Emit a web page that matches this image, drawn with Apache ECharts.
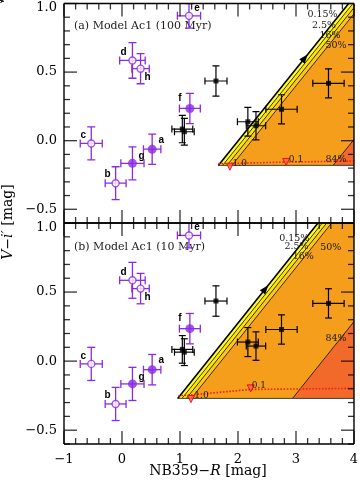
<!DOCTYPE html>
<html>
<head>
<meta charset="utf-8">
<script src="https://cdn.jsdelivr.net/npm/echarts@6/dist/echarts.min.js"></script>
<style>html,body{margin:0;padding:0;background:#fff}#chart{width:360px;height:487px}</style>
</head>
<body>
<div id="chart"></div>
<script>
// observed objects: [x, y, xerr, yerr, letter]
const openPts = [
	[-0.53, -0.02, 0.19, 0.12, "c"],
	[-0.11, -0.31, 0.18, 0.12, "b"],
	[0.18, 0.585, 0.22, 0.13, "d"],
	[0.32, 0.525, 0.15, 0.11, "h"],
	[1.155, 0.91, 0.2, 0.09, "e"]
];
const filledPts = [
	[0.18, -0.165, 0.2, 0.12, "g"],
	[0.52, -0.062, 0.15, 0.11, "a"],
	[1.17, 0.235, 0.18, 0.11, "f"]
];
const blackPts = [
	[1.62, 0.435, 0.19, 0.11],
	[1.04, 0.085, 0.18, 0.10],
	[1.075, 0.065, 0.17, 0.097],
	[2.17, 0.138, 0.18, 0.105],
	[2.31, 0.109, 0.167, 0.103],
	[2.75, 0.229, 0.27, 0.106],
	[3.56, 0.418, 0.27, 0.106]
];
const xMajor = [-1, 0, 1, 2, 3, 4];
const yMajor = [-0.5, 0, 0.5, 1.0];

// dust attenuation wedge (one per panel)
const wedgeTips = [[1.66, -0.18], [0.96, -0.27]];
const wedgeSlope = 0.525;
const bandEdges = [0, 0.075, 0.15, 0.235, 1.98, 9];
const bandColors = ["#ffff22", "#ffe600", "#ffc815", "#f59e1b", "#f26a2a"];
const arrowX = [3.2, 2.52];

// age track (red dotted)
const trackLines = [
	[[1.66, -0.168], [2.83, -0.156], [4, -0.148]],
	[[0.97, -0.252], [1.5, -0.233], [2.22, -0.205], [4, -0.197]]
];
const trackMarks = [
	[[1.86, -0.19], [2.83, -0.155]],
	[[1.19, -0.275], [2.22, -0.197]]
];
const trackLabels = [
	[[2.03, -0.165, "1.0"], [3.0, -0.136, "0.1"]],
	[[1.37, -0.252, "1.0"], [2.36, -0.18, "0.1"]]
];
const pctLabels = [
	[[3.457, 0.916, "0.15%"], [3.483, 0.843, "2.5%"], [3.586, 0.77, "16%"], [3.69, 0.69, "50%"], [3.69, -0.141, "84%"]],
	[[2.97, 0.888, "0.15%"], [3.01, 0.827, "2.5%"], [3.126, 0.754, "16%"], [3.6, 0.819, "50%"], [3.69, 0.165, "84%"]]
];
const dustTitle = [[2.43, 0.697, "Dust attenuation"], [2.04, 0.611, "Dust attenuation"]];
const dustSub = [[2.45, 0.624, "(SMC law)"], [2.06, 0.532, "(SMC law)"]];
const panelTitles = ["(a) Model Ac1 (100 Myr)", "(b) Model Ac1 (10 Myr)"];

const chart = echarts.init(document.getElementById("chart"));
const serif = "DejaVu Serif";
const purple = "#8a2be2";
const letterOffset = { c: [-8, -8], b: [-8, -9], g: [9, -7], a: [9, -9], d: [-9, -8], h: [7, 9], e: [8, -8], f: [-10, -10] };
const X0 = -1, X1 = 4, Y0 = -0.6, Y1 = 1.0;

// minor tick positions (every 0.2 in x, 0.1 in y)
const isIn = (list, v) => list.some(t => Math.abs(t - v) < 1e-6);
const xMinor = [], yMinor = [];
for (let k = 0; k <= 25; k++) {
	const v = Math.round((X0 + k * 0.2) * 10) / 10;
	if (!isIn(xMajor, v)) xMinor.push(v);
}
for (let k = 0; k <= 16; k++) {
	const v = Math.round((Y0 + k * 0.1) * 10) / 10;
	if (!isIn(yMajor, v)) yMinor.push(v);
}

function frameRender(params, api) {
	const tl = api.coord([X0, Y1]), br = api.coord([X1, Y0]);
	const ln = (x1, y1, x2, y2) => ({ type: "line", shape: { x1, y1, x2, y2 }, style: { stroke: "#000", lineWidth: 1.4 } });
	return { type: "group", children: [
		ln(tl[0], tl[1], br[0], tl[1]), ln(tl[0], br[1], br[0], br[1]),
		ln(tl[0], tl[1], tl[0], br[1]), ln(br[0], tl[1], br[0], br[1])
	] };
}

// tick marks drawn as thin rect symbols sitting on the frame, pointing inward
function tickSeries(gi, data, size, offset) {
	return { type: "scatter", xAxisIndex: gi, yAxisIndex: gi, z: 9, clip: false, silent: true,
		data: data, symbol: "rect", symbolSize: size, symbolOffset: offset,
		itemStyle: { color: "#000" } };
}

function bandRender(tip) {
	return function (params, api) {
		const i = params.dataIndex;
		const yb = tip[1], yt = 1.6;
		const run = (yt - yb) / wedgeSlope;
		const a1 = tip[0] + bandEdges[i], a2 = tip[0] + bandEdges[i + 1];
		const pts = [[a1, yb], [a2, yb], [a2 + run, yt], [a1 + run, yt]].map(p => api.coord(p));
		return { type: "polygon", shape: { points: pts }, style: { fill: bandColors[i] } };
	};
}

function edgeRender(tip, ax) {
	return function (params, api) {
		const yb = tip[1], yt = 1.6;
		const run = (yt - yb) / wedgeSlope;
		const kids = [];
		bandEdges.slice(0, 5).forEach((o, i) => {
			const p = api.coord([tip[0] + o, yb]), q = api.coord([tip[0] + o + run, yt]);
			kids.push({ type: "line", shape: { x1: p[0], y1: p[1], x2: q[0], y2: q[1] },
				style: { stroke: "#000", lineWidth: i === 0 ? 1.6 : 0.8 } });
		});
		const b1 = api.coord([tip[0], yb]), b2 = api.coord([4.5, yb]);
		kids.push({ type: "line", shape: { x1: b1[0], y1: b1[1], x2: b2[0], y2: b2[1] },
			style: { stroke: "#333", lineWidth: 0.9 } });
		// arrow head on the outer line
		const p = api.coord([ax, tip[1] + wedgeSlope * (ax - tip[0])]);
		const q = api.coord([ax - 0.2, tip[1] + wedgeSlope * (ax - 0.2 - tip[0])]);
		const len = Math.hypot(p[0] - q[0], p[1] - q[1]);
		const dx = (p[0] - q[0]) / len, dy = (p[1] - q[1]) / len;
		const bx = p[0] - dx * 9, by = p[1] - dy * 9;
		kids.push({ type: "polygon", shape: { points: [p, [bx - dy * 3.5, by + dx * 3.5], [bx + dy * 3.5, by - dx * 3.5]] },
			style: { fill: "#000" } });
		return { type: "group", children: kids };
	};
}

function errRender(color, width, cap) {
	return function (params, api) {
		const x = api.value(0), y = api.value(1), ex = api.value(2), ey = api.value(3);
		const l = api.coord([x - ex, y]), r = api.coord([x + ex, y]);
		const t = api.coord([x, y + ey]), b = api.coord([x, y - ey]);
		const ln = (x1, y1, x2, y2) => ({ type: "line", shape: { x1, y1, x2, y2 }, style: { stroke: color, lineWidth: width } });
		return { type: "group", children: [
			ln(l[0], l[1], r[0], r[1]), ln(t[0], t[1], b[0], b[1]),
			ln(l[0], l[1] - cap, l[0], l[1] + cap), ln(r[0], r[1] - cap, r[0], r[1] + cap),
			ln(t[0] - cap, t[1], t[0] + cap, t[1]), ln(b[0] - cap, b[1], b[0] + cap, b[1])
		] };
	};
}

function textSeries(list, gi, size) {
	return {
		type: "custom", xAxisIndex: gi, yAxisIndex: gi, z: 8, clip: false, silent: true,
		data: list.map(d => [d[0], d[1]]),
		renderItem: function (params, api) {
			const p = api.coord([api.value(0), api.value(1)]);
			const d = list[params.dataIndex];
			return { type: "text", x: p[0], y: p[1],
				style: { text: d[2], fontFamily: serif, fontSize: size, fill: "#1a1a1a", align: "center", verticalAlign: "middle" } };
		}
	};
}

const xAxes = [], yAxes = [], series = [];
[0, 1].forEach(gi => {
	xAxes.push({
		type: "value", gridIndex: gi, min: X0, max: X1, interval: 1,
		axisLine: { show: false, onZero: false }, axisTick: { show: false }, splitLine: { show: false },
		axisLabel: { show: gi === 1, margin: 9, color: "#000", fontFamily: serif, fontSize: 13,
			formatter: v => String(v).replace("-", "\u2212") }
	});
	yAxes.push({
		type: "value", gridIndex: gi, min: Y0, max: Y1, interval: 0.1,
		axisLine: { show: false, onZero: false }, axisTick: { show: false }, splitLine: { show: false },
		axisLabel: { margin: 7, color: "#000", fontFamily: serif, fontSize: 13,
			rich: { t: { fontFamily: serif, fontSize: 13, color: "#000", padding: [9, 0, 0, 0] } },
			formatter: v => {
				const r = Math.round(v * 10) / 10;
				if (!isIn(yMajor, r)) return "";
				const s = r.toFixed(1).replace("-", "\u2212");
				return r === 1 ? "{t|" + s + "}" : s;
			} }
	});

	const tip = wedgeTips[gi];
	const ax = { xAxisIndex: gi, yAxisIndex: gi };
	series.push(Object.assign({ type: "custom", z: 1, clip: true, silent: true,
		data: bandColors.map((c, i) => [i, 0]), renderItem: bandRender(tip) }, ax));
	series.push(Object.assign({ type: "custom", z: 2, clip: true, silent: true,
		data: [[0, 0]], renderItem: edgeRender(tip, arrowX[gi]) }, ax));
	series.push(Object.assign({ type: "line", z: 3, data: trackLines[gi], symbol: "none",
		lineStyle: { color: "#ff1a1a", width: 1.6, type: "dotted" } }, ax));
	series.push(Object.assign({ type: "scatter", z: 4, data: trackMarks[gi],
		symbol: "triangle", symbolRotate: 180, symbolSize: 7,
		itemStyle: { color: "#ff5a5a", borderColor: "#e00000", borderWidth: 1 } }, ax));
	series.push(Object.assign({ type: "custom", z: 5, clip: true, silent: true,
		data: blackPts, renderItem: errRender("#000", 1.2, 3.5) }, ax));
	series.push(Object.assign({ type: "scatter", z: 6, data: blackPts.map(d => [d[0], d[1]]),
		symbol: "rect", symbolSize: 5, itemStyle: { color: "#000" } }, ax));
	series.push(Object.assign({ type: "custom", z: 5, clip: true, silent: true,
		data: openPts.concat(filledPts).map(d => d.slice(0, 4)), renderItem: errRender(purple, 1.3, 4) }, ax));
	series.push(Object.assign({ type: "scatter", z: 6, data: openPts.map(d => [d[0], d[1]]),
		symbol: "circle", symbolSize: 7, itemStyle: { color: "#fff", borderColor: purple, borderWidth: 1.4 } }, ax));
	series.push(Object.assign({ type: "scatter", z: 6, data: filledPts.map(d => [d[0], d[1]]),
		symbol: "circle", symbolSize: 9, itemStyle: { color: purple } }, ax));
	// letters next to the purple points
	const lettered = openPts.concat(filledPts);
	series.push(Object.assign({
		type: "custom", z: 8, clip: false, silent: true,
		data: lettered.map(d => [d[0], d[1]]),
		renderItem: function (params, api) {
			const d = lettered[params.dataIndex];
			const p = api.coord([d[0], d[1]]), o = letterOffset[d[4]];
			return { type: "text", x: p[0] + o[0], y: p[1] + o[1],
				style: { text: d[4], fontFamily: "Liberation Sans", fontWeight: "bold", fontSize: 10, fill: "#000",
					align: "center", verticalAlign: "middle" } };
		}
	}, ax));
	series.push(textSeries(trackLabels[gi], gi, 9));
	series.push(textSeries(pctLabels[gi], gi, 9.5));
	series.push(textSeries(dustTitle[gi], gi, 10.5));
	series.push(textSeries(dustSub[gi], gi, 8.5));
	// frame
	series.push(Object.assign({ type: "custom", z: 9, clip: false, silent: true,
		data: [[0, 0]], renderItem: frameRender }, ax));
	// ticks on all four sides
	series.push(tickSeries(gi, xMajor.map(v => [v, Y0]), [1.3, 13], [0, -6.5]));
	series.push(tickSeries(gi, xMinor.map(v => [v, Y0]), [1.3, 6], [0, -3]));
	series.push(tickSeries(gi, xMajor.map(v => [v, Y1]), [1.3, 13], [0, 6.5]));
	series.push(tickSeries(gi, xMinor.map(v => [v, Y1]), [1.3, 6], [0, 3]));
	series.push(tickSeries(gi, yMajor.map(v => [X0, v]), [13, 1.3], [6.5, 0]));
	series.push(tickSeries(gi, yMinor.map(v => [X0, v]), [6, 1.3], [3, 0]));
	series.push(tickSeries(gi, yMajor.map(v => [X1, v]), [13, 1.3], [-6.5, 0]));
	series.push(tickSeries(gi, yMinor.map(v => [X1, v]), [6, 1.3], [-3, 0]));
});

const option = {
	animation: false,
	grid: [
		{ left: 64, right: 6, top: 3.5, height: 219.5, containLabel: false, outerBoundsMode: "none" },
		{ left: 64, right: 6, top: 223, height: 221, containLabel: false, outerBoundsMode: "none" }
	],
	xAxis: xAxes,
	yAxis: yAxes,
	graphic: [
		{ type: "text", left: 74, top: 21, style: { text: panelTitles[0], fontFamily: serif, fontSize: 11, fill: "#222" } },
		{ type: "text", left: 74, top: 242, style: { text: panelTitles[1], fontFamily: serif, fontSize: 11, fill: "#222" } },
		{ type: "text", x: 8, y: 222, rotation: Math.PI / 2,
			style: { text: "{it|V}\u2212{it|i\u2032} [mag]", fontFamily: serif, fontSize: 14, fill: "#000",
				align: "center", verticalAlign: "middle",
				rich: { it: { fontFamily: serif, fontSize: 14, fontStyle: "italic", fill: "#000" } } } },
		{ type: "text", x: 208, y: 471,
			style: { text: "NB359\u2212{it|R} [mag]", fontFamily: serif, fontSize: 14, fill: "#000",
				align: "center", verticalAlign: "middle",
				rich: { it: { fontFamily: serif, fontSize: 14, fontStyle: "italic", fill: "#000" } } } }
	],
	series: series
};

chart.setOption(option);
window.onresize = chart.resize;
</script>
</body>
</html>
